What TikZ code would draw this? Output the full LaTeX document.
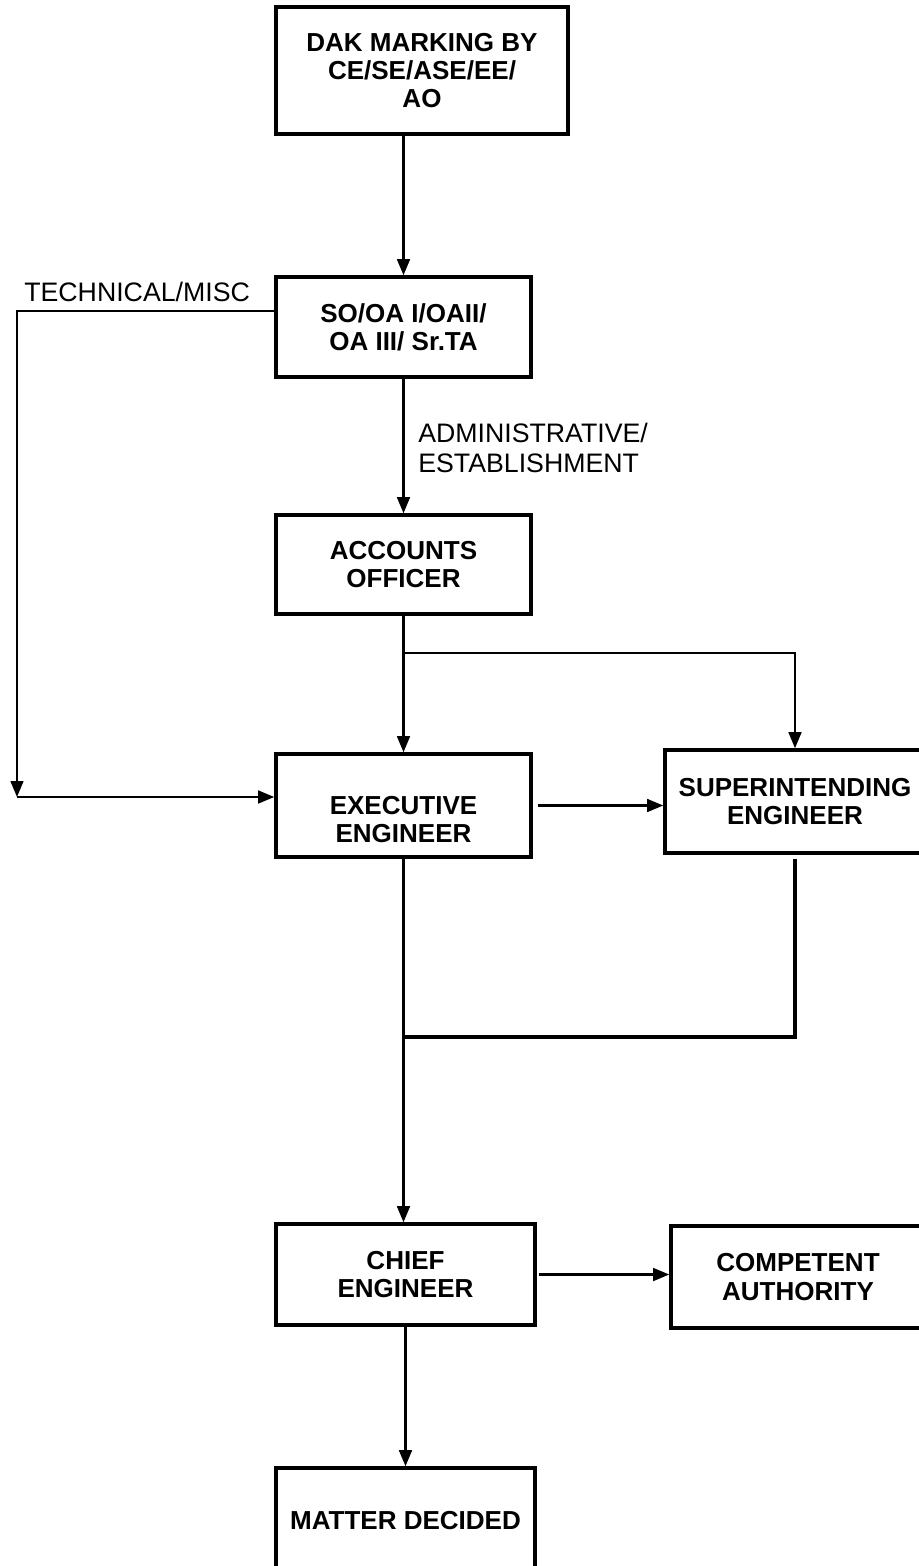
\documentclass[tikz,border=0pt]{standalone}
\usepackage{fontspec}
\setmainfont{Liberation Sans}
\usetikzlibrary{arrows.meta, calc}

\begin{document}
\begin{tikzpicture}[x=0.025cm, y=-0.025cm,
  box/.style={draw, line width=2.5pt, align=center, inner sep=0pt,
    font=\bfseries\fontsize{18.5}{20}\selectfont},
  boxtext/.style={align=center, inner sep=0pt, font=\bfseries\fontsize{18.5}{20}\selectfont},
  flow/.style={line width=1.5pt, -{Triangle[length=0.4cm, width=0.32cm]}},
  lbl/.style={align=left, inner sep=0pt, font=\fontsize{19}{21.5}\selectfont}]
  \useasboundingbox (0,0) rectangle (919,1566);
  \clip (0,0) rectangle (919,1566);
  % boxes
  \node[box, minimum width=7.3cm, minimum height=3.175cm] (dak) at (422,70.5) {DAK MARKING BY\\CE/SE/ASE/EE/\\AO};
  \node[box, minimum width=6.375cm, minimum height=2.5cm] (so) at (403.5,327) {SO/OA I/OAII/\\OA III/ Sr.TA};
  \node[box, minimum width=6.375cm, minimum height=2.475cm] (ao) at (403.5,564.5) {ACCOUNTS\\OFFICER};
  \node[box, minimum width=6.375cm, minimum height=2.575cm] (ee) at (403.5,805.5) {};
  \node[boxtext] (eetext) at (403.5,819.5) {EXECUTIVE\\ENGINEER};
  \node[box, minimum width=6.5cm, minimum height=2.575cm] (se) at (795,801.5) {SUPERINTENDING\\ENGINEER};
  \node[box, minimum width=6.475cm, minimum height=2.525cm] (ce) at (405.5,1274.5) {CHIEF\\ENGINEER};
  \node[box, minimum width=6.35cm, minimum height=2.55cm] (ca) at (798,1277) {COMPETENT\\AUTHORITY};
  \node[box, minimum width=6.475cm, minimum height=2.65cm] (md) at (405.5,1521) {MATTER DECIDED};
  % main line
  \draw[flow] (so.north |- dak.south) -- (so.north);
  \draw[flow] (so.south) -- (ao.north);
  \node[lbl, anchor=west] (admin) at (418,448) {ADMINISTRATIVE/\\ESTABLISHMENT};
  % technical branch
  \coordinate (tk) at (17,311);
  \coordinate (tj) at (17,797);
  \draw[flow] (so.west |- tk) -- (tk) -- (tj);
  \draw[flow] (tj) -- (tj -| ee.west);
  \node[lbl, anchor=west] (tech) at (24,292) {TECHNICAL/MISC};
  % accounts officer to EE and SE
  \coordinate (ab) at (403.5,653);
  \draw[flow] (ao.south) -- (ee.north);
  \draw[flow] (ab) -- (ab -| se.north) -- (se.north);
  \draw[flow, shorten <=0.12cm] (ee.east) -- (ee.east -| se.west);
  % down to chief engineer
  \coordinate (sj) at (403.5,1037);
  \draw[flow] (ee.south) -- (ee.south |- ce.north);
  \draw[line width=2.6pt, shorten <=0.1cm] (se.south) -- (se.south |- sj) -- (sj);
  \draw[flow, shorten <=0.05cm] (ce.east) -- (ce.east -| ca.west);
  \draw[flow] (ce.south) -- (ce.south |- md.north);
\end{tikzpicture}
\end{document}
